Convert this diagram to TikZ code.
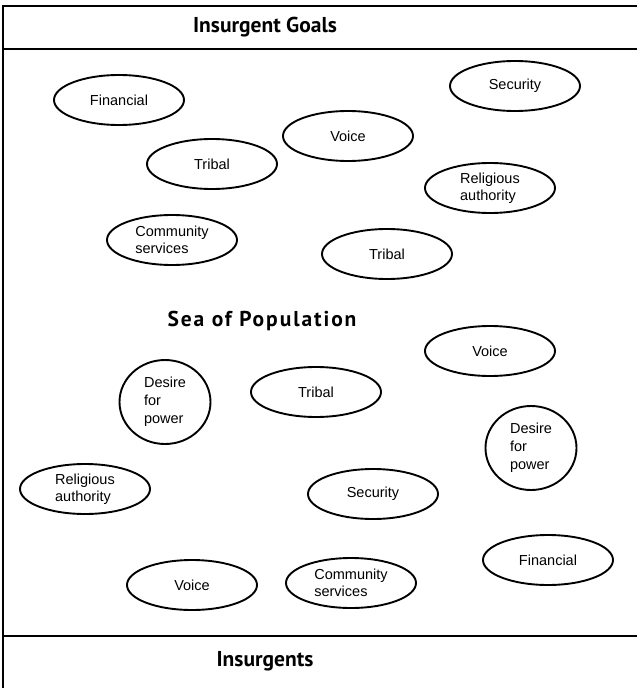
\documentclass[tikz,border=0pt]{standalone}
\usepackage{fontspec}
\setmainfont{Liberation Sans}
\newfontfamily\titlefont{PT Sans}
\newfontfamily\seafont{PT Sans}[LetterSpace=9]
\usetikzlibrary{shapes.geometric}
\tikzset{
  goal/.style={ellipse, draw, line width=1.9pt, minimum width=130pt, minimum height=50pt, inner sep=0pt, align=left, font=\fontsize{14.5}{16.5}\selectfont},
  circ/.style={ellipse, draw, line width=1.9pt, minimum width=91pt, minimum height=84pt, inner sep=0pt, align=left, font=\fontsize{14.5}{18}\selectfont},
  title/.style={font=\titlefont\bfseries\fontsize{21.5}{24}\selectfont, inner sep=0pt},
  seatitle/.style={font=\seafont\bfseries\fontsize{21.5}{24}\selectfont, inner sep=0pt},
  frame/.style={line width=1.8pt}
}
\begin{document}
\begin{tikzpicture}[x=1pt,y=-1pt]
\useasboundingbox (0,0) rectangle (637,688);
\fill[white] (0,0) rectangle (637,688);
\draw[frame] (640,6) -- (3,6) -- (3,690);
\draw[frame] (3,49) -- (640,49);
\draw[frame] (3,636) -- (640,636);
\node[title] (goals) at (265,27) {Insurgent Goals};
\node[seatitle] (sea) at (262,321) {Sea of Population};
\node[title] (ins) at (265,661) {Insurgents};
\node[goal] (fin1) at (119,100) {Financial};
\node[goal] (tri1) at (212,164) {Tribal};
\node[goal] (com1) at (172,240) {Community\\services};
\node[goal] (sec1) at (515,86) {Security};
\node[goal] (voi1) at (348,136) {Voice};
\node[goal] (rel1) at (490,188) {Religious\\authority};
\node[goal] (tri2) at (387,254) {Tribal};
\node[circ] (des1) at (165,402) {Desire\\for\\power};
\node[goal] (tri3) at (316,392) {Tribal};
\node[goal] (rel2) at (85,489) {Religious\\authority};
\node[goal] (voi2) at (490,351) {Voice};
\node[circ] (des2) at (531,448) {Desire\\for\\power};
\node[goal] (sec2) at (373,494) {Security};
\node[goal] (fin2) at (548,560) {Financial};
\node[goal] (com2) at (351,583) {Community\\services};
\node[goal] (voi3) at (192,585) {Voice};
\end{tikzpicture}
\end{document}
